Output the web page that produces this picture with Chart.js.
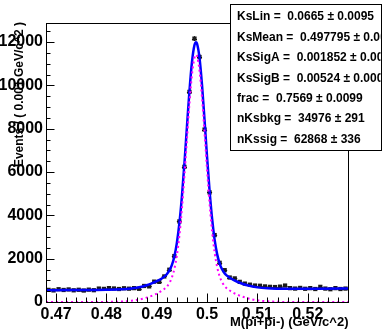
<!DOCTYPE html>
<html>
<head>
<meta charset="utf-8">
<script src="https://cdn.jsdelivr.net/npm/chart.js@4.4.0/dist/chart.umd.min.js"></script>
<style>
  body { margin: 0; background: #fff; }
  canvas { display: block; }
</style>
</head>
<body>
<canvas id="myChart" width="387" height="329"></canvas>
<script>
const ctx = document.getElementById('myChart').getContext('2d');

// histograma: centros de bin (ancho 0.001 GeV) y cuentas
const binCenters = [
  0.4685, 0.4695, 0.4705, 0.4715, 0.4725, 0.4735, 0.4745, 0.4755, 0.4765, 0.4775,
  0.4785, 0.4795, 0.4805, 0.4815, 0.4825, 0.4835, 0.4845, 0.4855, 0.4865, 0.4875,
  0.4885, 0.4895, 0.4905, 0.4915, 0.4925, 0.4935, 0.4945, 0.4955, 0.4965, 0.4975,
  0.4985, 0.4995, 0.5005, 0.5015, 0.5025, 0.5035, 0.5045, 0.5055, 0.5065, 0.5075,
  0.5085, 0.5095, 0.5105, 0.5115, 0.5125, 0.5135, 0.5145, 0.5155, 0.5165, 0.5175,
  0.5185, 0.5195, 0.5205, 0.5215, 0.5225, 0.5235, 0.5245, 0.5255, 0.5265, 0.5275
]
const counts = [
  560, 535, 590, 555, 580, 540, 565, 530, 570, 545,
  620, 605, 640, 625, 600, 635, 615, 640, 610, 740,
  720, 940, 930, 1180, 1490, 2120, 3720, 6240, 9700, 12160,
  11310, 7960, 5060, 3090, 1810, 1470, 1130, 1090, 930, 850,
  800, 760, 750, 720, 700, 690, 710, 760, 640, 620,
  650, 610, 640, 600, 700, 620, 590, 640, 600, 620
]

// curvas del ajuste
const curveMass = [
  0.468, 0.472, 0.476, 0.478, 0.480, 0.482, 0.484, 0.485, 0.486, 0.487,
  0.488, 0.489, 0.490, 0.491, 0.4915, 0.492, 0.4925, 0.493, 0.4935, 0.494,
  0.4945, 0.495, 0.4955, 0.496, 0.4965, 0.497, 0.4975, 0.4978, 0.498, 0.4985,
  0.499, 0.4995, 0.500, 0.5005, 0.501, 0.5015, 0.502, 0.5025, 0.503, 0.5035,
  0.504, 0.505, 0.506, 0.507, 0.508, 0.510, 0.512, 0.514, 0.516, 0.518,
  0.522, 0.528
]
const curveTotal = [
  544, 549, 555, 558, 564, 574, 601, 625, 659, 708,
  773, 856, 959, 1088, 1172, 1283, 1446, 1701, 2105, 2729,
  3638, 4870, 6393, 8085, 9737, 11080, 11865, 11996, 11933, 11271,
  10011, 8398, 6695, 5133, 3845, 2879, 2210, 1774, 1499, 1322,
  1206, 1049, 935, 843, 771, 675, 631, 614, 609, 610,
  614, 622
]
const curveSignal = [
  0, 0, 0, 1, 4, 12, 36, 59, 92, 139,
  203, 285, 386, 514, 597, 708, 870, 1124, 1528, 2151,
  3060, 4291, 5813, 7505, 9156, 10498, 11283, 11413, 11350, 10687,
  9427, 7813, 6110, 4547, 3258, 2292, 1622, 1185, 910, 732,
  616, 457, 342, 249, 175, 77, 30, 10, 3, 1,
  0, 0
]

const xTickLabels = [0.47, 0.48, 0.49, 0.5, 0.51, 0.52]
const yTickLabels = [0, 2000, 4000, 6000, 8000, 10000, 12000]

const statNames = ['KsLin', 'KsMean', 'KsSigA', 'KsSigB', 'frac', 'nKsbkg', 'nKssig']
const statValues = ['0.0665', '0.497795', '0.001852', '0.00524', '0.7569', '34976', '62868']
const statErrors = ['0.0095', '0.000017', '0.000040', '0.00011', '0.0099', '291', '336']

const xTitle = 'M(pi+pi-) (GeV/c^2)'
const yTitle = 'Events / ( 0.001 GeV/c^2 )'

const FONT = "'Liberation Sans', Arial, sans-serif"

const marcoPlugin = {
  id: 'marco',
  beforeDatasetDraw(chart, args) {
    if (args.index !== 0) return
    const c = chart.ctx, xs = chart.scales.x, ys = chart.scales.y, a = chart.chartArea
    c.save()
    c.beginPath()
    c.rect(a.left, a.top, a.right - a.left, a.bottom - a.top)
    c.clip()
    c.strokeStyle = '#000'
    c.lineWidth = 1
    c.beginPath()
    binCenters.forEach((m, i) => {
      const n = counts[i]
      const e = Math.sqrt(n)
      const px = Math.round(xs.getPixelForValue(m)) + 0.5
      const py = Math.round(ys.getPixelForValue(n)) + 0.5
      c.moveTo(xs.getPixelForValue(m - 0.0005), py)
      c.lineTo(xs.getPixelForValue(m + 0.0005), py)
      c.moveTo(px, ys.getPixelForValue(n - e))
      c.lineTo(px, ys.getPixelForValue(n + e))
    })
    c.stroke()
    c.restore()
  },
  afterDraw(chart) {
    const c = chart.ctx, xs = chart.scales.x, ys = chart.scales.y, a = chart.chartArea
    c.save()
    // marco
    c.strokeStyle = '#000'
    c.lineWidth = 1
    const L = Math.round(a.left) + 0.5, R = Math.round(a.right) + 0.5
    const T = Math.round(a.top) + 0.5, B = Math.round(a.bottom) + 0.5
    c.strokeRect(L, T, R - L, B - T)
    // ticks
    c.beginPath()
    for (let v = 500; v < ys.max; v += 500) {
      const py = Math.round(ys.getPixelForValue(v)) + 0.5
      const len = v % 2000 === 0 ? 8 : 4
      c.moveTo(L, py)
      c.lineTo(L + len, py)
    }
    for (let i = 235; i <= 263; i++) {
      const px = Math.round(xs.getPixelForValue(i * 0.002)) + 0.5
      const len = i % 5 === 0 ? 9 : 5
      c.moveTo(px, B)
      c.lineTo(px, B - len)
    }
    c.stroke()
    // titulos
    c.fillStyle = '#000'
    c.font = 'bold 13px ' + FONT
    c.textAlign = 'right'
    c.textBaseline = 'alphabetic'
    c.fillText(xTitle, R, 326)
    c.save()
    c.translate(20, a.top - 1)
    c.rotate(-Math.PI / 2)
    c.font = 'bold 12px ' + FONT
    c.textAlign = 'right'
    c.textBaseline = 'middle'
    c.fillText(yTitle, 0, 0)
    c.restore()
    // caja de parametros
    const bx = 230.5, by = 4.5, bw = 151, bh = 146
    c.fillStyle = '#fff'
    c.fillRect(bx, by, bw, bh)
    c.strokeRect(bx, by, bw, bh)
    c.beginPath()
    c.rect(bx, by, bw - 1, bh)
    c.clip()
    c.fillStyle = '#000'
    c.font = 'bold 12px ' + FONT
    c.textAlign = 'left'
    c.textBaseline = 'middle'
    statNames.forEach((nm, i) => {
      c.fillText(nm + ' =  ' + statValues[i] + ' \u00b1 ' + statErrors[i], 237, 17 + i * 20.4)
    })
    c.restore()
  }
}

const datos = binCenters.map((m, i) => ({ x: m, y: counts[i] }))
const total = curveMass.map((m, i) => ({ x: m, y: curveTotal[i] }))
const senal = curveMass.map((m, i) => ({ x: m, y: curveSignal[i] }))

const myChart = new Chart(ctx, {
  type: 'scatter',
  data: {
    datasets: [
      {
        label: 'datos',
        data: datos,
        showLine: false,
        pointStyle: 'rect',
        pointRadius: 3,
        backgroundColor: '#1a1a1a',
        borderColor: '#1a1a1a',
        borderWidth: 0,
        order: 3
      },
      {
        label: 'total',
        data: total,
        showLine: true,
        pointRadius: 0,
        borderColor: '#0000ff',
        borderWidth: 2.5,
        cubicInterpolationMode: 'monotone',
        order: 2
      },
      {
        label: 'senal',
        data: senal,
        showLine: true,
        pointRadius: 0,
        borderColor: '#ff00ff',
        borderWidth: 2,
        borderDash: [2, 3],
        cubicInterpolationMode: 'monotone',
        order: 1
      }
    ]
  },
  options: {
    responsive: false,
    animation: false,
    devicePixelRatio: 1,
    layout: { padding: { top: 23, right: 39, left: 0, bottom: 0 } },
    plugins: {
      legend: { display: false },
      tooltip: { enabled: false }
    },
    scales: {
      x: {
        type: 'linear',
        min: 0.468,
        max: 0.528,
        grid: { display: false, drawTicks: false },
        border: { display: false },
        afterBuildTicks: (scale) => { scale.ticks = xTickLabels.map(v => ({ value: v })) },
        afterFit: (scale) => { scale.height = 27 },
        ticks: {
          autoSkip: false,
          maxRotation: 0,
          padding: 3,
          color: '#000',
          font: { family: FONT, size: 16, weight: 'bold' },
          callback: (v) => String(v)
        }
      },
      y: {
        type: 'linear',
        min: 0,
        max: 12880,
        grid: { display: false, drawTicks: false },
        border: { display: false },
        afterBuildTicks: (scale) => { scale.ticks = yTickLabels.map(v => ({ value: v })) },
        afterFit: (scale) => { scale.width = 46 },
        ticks: {
          padding: 3,
          color: '#000',
          font: { family: FONT, size: 16, weight: 'bold' },
          callback: (v) => String(v)
        }
      }
    }
  },
  plugins: [marcoPlugin]
})
</script>
</body>
</html>
